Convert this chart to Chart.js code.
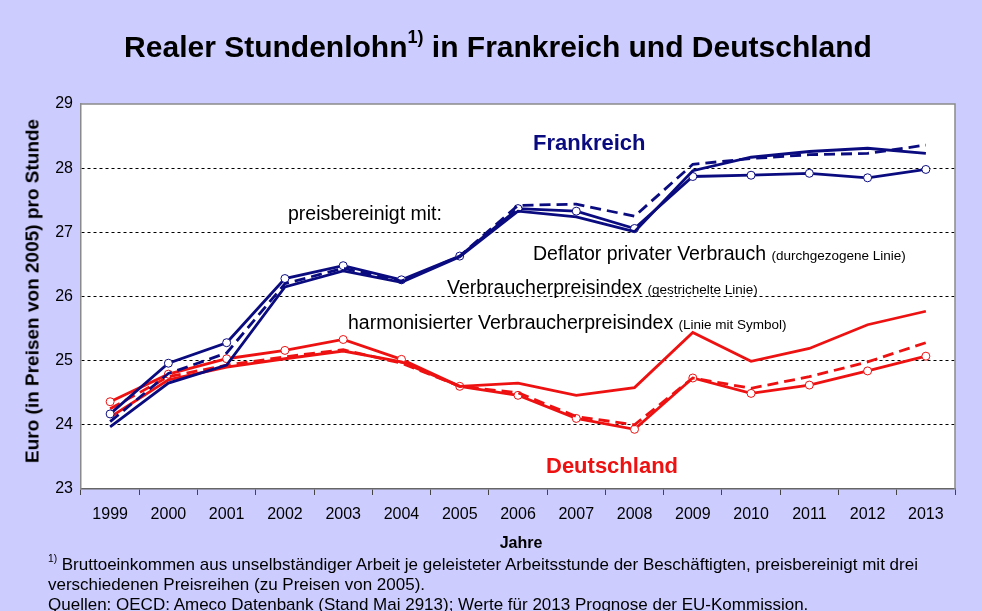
<!DOCTYPE html>
<html><head><meta charset="utf-8">
<script src="https://cdn.jsdelivr.net/npm/chart.js@4.4.0/dist/chart.umd.min.js"></script>
<style>
html,body{margin:0;padding:0;background:#ccccff;}
#wrap{position:relative;width:982px;height:611px;overflow:hidden;background:#ccccff;font-family:"Liberation Sans",Arial,sans-serif;color:#000;}
canvas{position:absolute;left:0;top:0;}
.t{position:absolute;white-space:nowrap;line-height:1;transform:translateY(-50%);}
.c{transform:translate(-50%,-50%);}
.s{font-size:13.5px;}
sup{font-size:60%;line-height:0;position:relative;top:-0.15em;vertical-align:super;}
</style></head><body>
<div id="wrap">
<canvas id="c" width="982" height="611"></canvas>
<div class="t c" style="left:498px;top:47px;font-size:30px;font-weight:bold;">Realer Stundenlohn<sup>1)</sup> in Frankreich und Deutschland</div>
<div class="t" style="left:32px;top:291px;font-size:19px;font-weight:bold;transform:translate(-50%,-50%) rotate(-90deg);">Euro (in Preisen von 2005) pro Stunde</div>
<div class="t" style="left:533px;top:143px;font-size:22px;font-weight:bold;color:#0b0b80;">Frankreich</div>
<div class="t" style="left:546px;top:466px;font-size:22px;font-weight:bold;color:#ee1111;">Deutschland</div>
<div class="t" style="left:288px;top:214px;font-size:19.5px;">preisbereinigt mit:</div>
<div class="t" style="left:533px;top:254px;font-size:19.5px;">Deflator privater Verbrauch <span class="s">(durchgezogene Linie)</span></div>
<div class="t" style="left:447px;top:288px;font-size:19.5px;">Verbraucherpreisindex <span class="s">(gestrichelte Linie)</span></div>
<div class="t" style="left:348px;top:323px;font-size:19.5px;">harmonisierter Verbraucherpreisindex <span class="s">(Linie mit Symbol)</span></div>
<div class="t c" style="left:521px;top:543px;font-size:16px;font-weight:bold;">Jahre</div>
<div class="t" style="left:48px;top:564px;font-size:17px;"><sup>1)</sup> Bruttoeinkommen aus unselbständiger Arbeit je geleisteter Arbeitsstunde der Beschäftigten, preisbereinigt mit drei</div>
<div class="t" style="left:48px;top:584px;font-size:17px;">verschiedenen Preisreihen (zu Preisen von 2005).</div>
<div class="t" style="left:48px;top:604px;font-size:17px;">Quellen: OECD: Ameco Datenbank (Stand Mai 2913); Werte für 2013 Prognose der EU-Kommission.</div>
</div>
<script>
const years = ['1999','2000','2001','2002','2003','2004','2005','2006','2007','2008','2009','2010','2011','2012','2013'];
// Frankreich
const frDeflator = [23.97,24.65,24.93,26.15,26.40,26.22,26.62,27.33,27.24,27.01,27.96,28.17,28.26,28.31,28.23];
const frVPI      = [24.05,24.80,25.12,26.20,26.44,26.24,26.63,27.42,27.44,27.25,28.06,28.15,28.21,28.23,28.36];
const frHVPI     = [24.17,24.96,25.28,26.28,26.48,26.26,26.63,27.37,27.33,27.06,27.87,27.89,27.92,27.85,27.98];
// Deutschland
const deDeflator = [24.12,24.70,24.90,25.03,25.15,24.98,24.60,24.65,24.46,24.58,25.44,24.99,25.19,25.56,25.77];
const deVPI      = [24.25,24.75,24.93,25.06,25.17,24.96,24.60,24.50,24.13,24.00,24.73,24.57,24.75,24.98,25.28];
const deHVPI     = [24.36,24.79,25.03,25.16,25.33,25.02,24.60,24.46,24.10,23.93,24.73,24.49,24.62,24.84,25.07];
const yMin = 23, yMax = 29, yStep = 1;

const NAVY = '#0b0b80', RED = '#ee1111';
const FONT = '"Liberation Sans", Arial, sans-serif';

function line(label, data, color, dashed, symbol){
  return {
    label, data, borderColor: color, backgroundColor: '#ffffff',
    borderWidth: 2.8, borderDash: dashed ? [11,6] : [],
    tension: 0, fill: false,
    pointRadius: symbol ? 4 : 0, pointHoverRadius: symbol ? 4 : 0,
    pointBorderWidth: 1, pointBorderColor: color, pointBackgroundColor: '#ffffff'
  };
}

const plotBg = {
  id: 'plotBg',
  beforeDraw(chart){
    const {ctx, chartArea: a} = chart;
    ctx.save();
    ctx.fillStyle = '#ffffff';
    ctx.fillRect(a.left, a.top, a.right - a.left, a.bottom - a.top);
    ctx.restore();
  },
  afterDraw(chart){
    const {ctx, chartArea: a} = chart;
    ctx.save();
    ctx.strokeStyle = '#8a8a8a';
    ctx.lineWidth = 1.5;
    ctx.beginPath();
    ctx.moveTo(a.left, a.top); ctx.lineTo(a.right, a.top); ctx.lineTo(a.right, a.bottom);
    ctx.stroke();
    ctx.restore();
  }
};

new Chart(document.getElementById('c'), {
  type: 'line',
  data: {
    labels: years,
    datasets: [
      line('Frankreich – Deflator privater Verbrauch', frDeflator, NAVY, false, false),
      line('Frankreich – Verbraucherpreisindex', frVPI, NAVY, true, false),
      line('Frankreich – harmonisierter Verbraucherpreisindex', frHVPI, NAVY, false, true),
      line('Deutschland – Deflator privater Verbrauch', deDeflator, RED, false, false),
      line('Deutschland – Verbraucherpreisindex', deVPI, RED, true, false),
      line('Deutschland – harmonisierter Verbraucherpreisindex', deHVPI, RED, false, true)
    ]
  },
  options: {
    responsive: false, animation: false, devicePixelRatio: 1,
    layout: { padding: { left: 0, top: 104, right: 27, bottom: 0 } },
    plugins: { legend: { display: false }, title: { display: false }, tooltip: { enabled: false } },
    scales: {
      x: {
        type: 'category', offset: true,
        grid: { offset: true, drawOnChartArea: false, drawTicks: true, tickLength: 6, color: '#444', lineWidth: 1 },
        border: { display: true, color: '#666', width: 1.5 },
        ticks: { color: '#000', font: { size: 16, family: FONT }, padding: 10, maxRotation: 0, autoSkip: false },
        afterFit(s){ s.height = 122; }
      },
      y: {
        min: yMin, max: yMax,
        grid: {
          drawTicks: false, lineWidth: 1,
          color: (c) => (c.tick && (c.tick.value === yMin || c.tick.value === yMax)) ? 'rgba(0,0,0,0)' : '#000'
        },
        border: { display: true, color: '#8a8a8a', width: 1.5, dash: [3,3] },
        ticks: { stepSize: yStep, color: '#000', font: { size: 16, family: FONT }, padding: 8 },
        afterFit(s){ s.width = 81; }
      }
    }
  },
  plugins: [plotBg]
});
</script>
</body></html>
